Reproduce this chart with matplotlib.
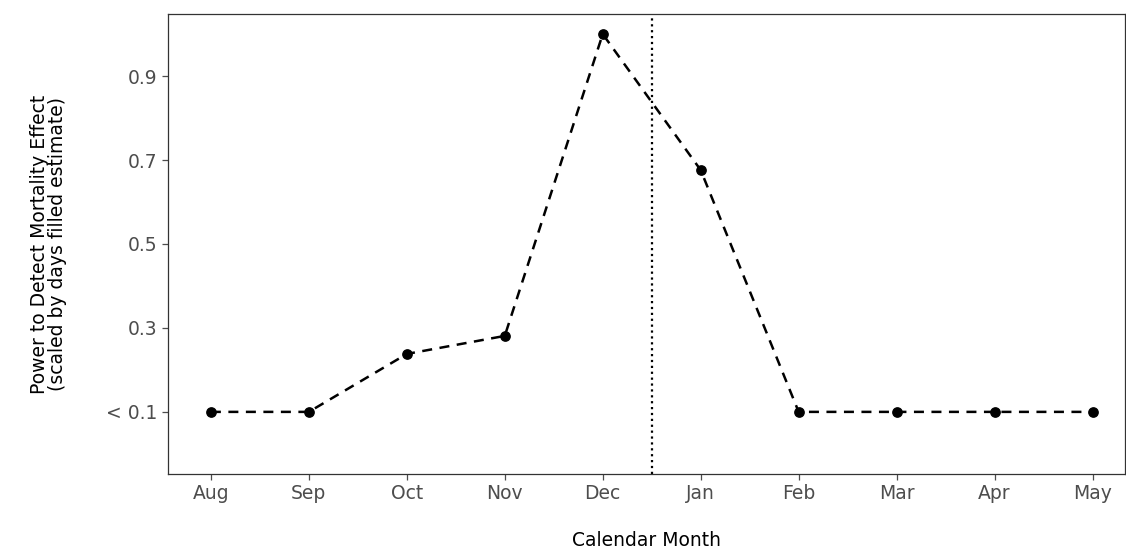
import matplotlib.pyplot as plt

months = ["Aug", "Sep", "Oct", "Nov", "Dec", "Jan", "Feb", "Mar", "Apr", "May"]
power = [0.1, 0.1, 0.238, 0.281, 1.0, 0.676, 0.1, 0.1, 0.1, 0.1]
yticks = [0.1, 0.3, 0.5, 0.7, 0.9]
ytick_labels = ["< 0.1", "0.3", "0.5", "0.7", "0.9"]

fig = plt.figure(figsize=(11.26, 5.57), dpi=100)
ax = fig.add_axes([0.149, 0.149, 0.850, 0.826])

x = list(range(len(months)))
ax.plot(x, power, color="black", linestyle=(0, (4, 3)), linewidth=1.8)
ax.scatter(x, power, color="black", s=45, zorder=3)
ax.axvline(4.5, color="black", linestyle=":", linewidth=1.6)

ax.set_xlim(-0.44, 9.33)
ax.set_ylim(-0.048, 1.048)
ax.set_xticks(x)
ax.set_xticklabels(months)
ax.set_yticks(yticks)
ax.set_yticklabels(ytick_labels)
ax.tick_params(labelsize=13.5, colors="#4d4d4d", length=4, width=0.9)
for s in ax.spines.values():
    s.set_color("#333333")
    s.set_linewidth(0.9)

ax.set_xlabel("Calendar Month", fontsize=13.5, labelpad=20)
ax.set_ylabel("Power to Detect Mortality Effect\n(scaled by days filled estimate)",
              fontsize=13.5, labelpad=28, linespacing=0.95)

fig.savefig("out.png", dpi=100)
